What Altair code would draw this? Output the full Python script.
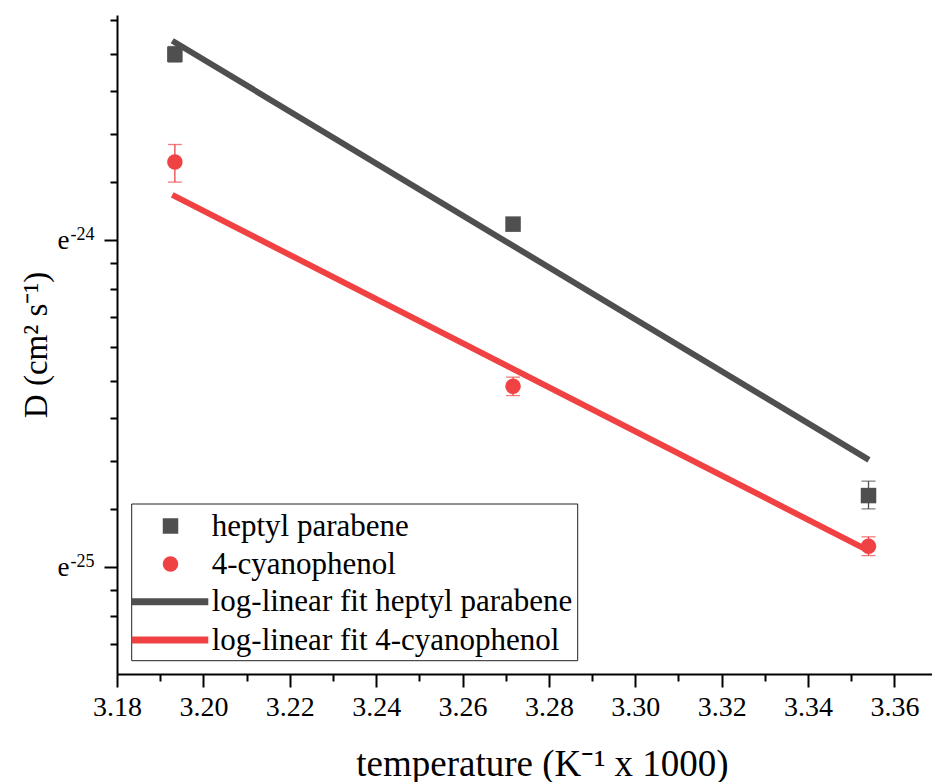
import math

import altair as alt
import pandas as pd

# Inverse temperature (K^-1 x 1000) of the three measurements
inv_temp = [3.1934, 3.2717, 3.3540]

# Diffusion coefficients D (cm^2 s^-1) with lower / upper error bounds
heptyl_D = [6.651e-11, 3.957e-11, 1.7256e-11]
heptyl_lo = [6.494e-11, 3.909e-11, 1.6568e-11]
heptyl_hi = [6.812e-11, 4.006e-11, 1.8034e-11]

cyano_D = [4.7835e-11, 2.4099e-11, 1.4782e-11]
cyano_lo = [4.4995e-11, 2.3426e-11, 1.4363e-11]
cyano_hi = [5.0477e-11, 2.4784e-11, 1.5209e-11]

# Log-linear fit lines, evaluated at the two ends of the range
fit_x = [3.1928, 3.3541]
heptyl_fit = [6.932e-11, 1.9246e-11]
cyano_fit = [4.328e-11, 1.4571e-11]

legend_labels = [
    "heptyl parabene",
    "4-cyanophenol",
    "log-linear fit heptyl parabene",
    "log-linear fit 4-cyanophenol",
]

# Axis ticks: x every 0.01 (labelled every 0.02); y in powers of e
x_ticks = [round(3.18 + 0.01 * i, 2) for i in range(19)]
y_major_exp = [-25, -24]
y_decades = [-26, -25, -24, -23]

FONT = "Liberation Serif"
GRAY = "#4f4f4f"
RED = "#f04243"
W, H = 815, 659
Y_DOMAIN = [1.0e-11, 7.5e-11]

y_ticks = [
    math.exp(n) * (1 + k * (math.e - 1) / 9) for n in y_decades for k in range(9)
]
y_ticks = [v for v in y_ticks if Y_DOMAIN[0] <= v <= Y_DOMAIN[1]]

x_scale = alt.Scale(domain=[3.18, 3.3687], nice=False, zero=False)
y_scale = alt.Scale(type="log", base=math.e, domain=Y_DOMAIN, nice=False)

x_major = "round(datum.value * 100) % 2 == 0"
y_major = "abs(log(datum.value) - round(log(datum.value))) < 1e-6"

x_axis = alt.Axis(
    values=x_ticks,
    title="temperature (K⁻¹ x 1000)",
    labelExpr=f"{x_major} ? format(datum.value, '.2f') : ''",
    tickSize={"condition": {"test": x_major, "value": 13}, "value": 7},
    grid=False,
    domainColor="black",
    domainWidth=2,
    tickColor="black",
    tickWidth=2,
    labelColor="black",
    labelFont=FONT,
    labelFontSize=28,
    labelPadding=6,
    labelOverlap=False,
    labelFlush=False,
    titleColor="black",
    titleFont=FONT,
    titleFontSize=37,
    titleFontWeight="normal",
    titlePadding=25,
    titleX=425,
)

y_axis = alt.Axis(
    values=y_ticks,
    labels=False,
    title="D (cm² s⁻¹)",
    tickSize={"condition": {"test": y_major, "value": 13}, "value": 7},
    grid=False,
    domainColor="black",
    domainWidth=2,
    tickColor="black",
    tickWidth=2,
    titleColor="black",
    titleFont=FONT,
    titleFontSize=33,
    titleFontWeight="normal",
    titlePadding=50,
)


def xe(field="x"):
    return alt.X(f"{field}:Q", scale=x_scale, axis=x_axis)


def ye(field="D"):
    return alt.Y(f"{field}:Q", scale=y_scale, axis=y_axis)


def series_layers(D, lo, hi, fit, color, shape):
    pts = pd.DataFrame({"x": inv_temp, "D": D, "lo": lo, "hi": hi})
    fit_df = pd.DataFrame({"x": fit_x, "D": fit})
    bar = alt.Chart(pts).mark_rule(color=color, strokeWidth=1.3).encode(
        x=xe(), y=ye("lo"), y2="hi"
    )
    cap_lo = alt.Chart(pts).mark_tick(
        color=color, orient="horizontal", size=14, thickness=1.3
    ).encode(x=xe(), y=ye("lo"))
    cap_hi = alt.Chart(pts).mark_tick(
        color=color, orient="horizontal", size=14, thickness=1.3
    ).encode(x=xe(), y=ye("hi"))
    dots = alt.Chart(pts).mark_point(
        shape=shape, filled=True, size=240, color=color, opacity=1
    ).encode(x=xe(), y=ye("D"))
    line = alt.Chart(fit_df).mark_line(
        color=color, strokeWidth=6, strokeCap="butt"
    ).encode(x=xe(), y=ye("D"))
    return [bar, cap_lo, cap_hi, dots, line]


layers = []
layers += series_layers(heptyl_D, heptyl_lo, heptyl_hi, heptyl_fit, GRAY, "square")
layers += series_layers(cyano_D, cyano_lo, cyano_hi, cyano_fit, RED, "circle")

# y tick labels written as e with a raised exponent
ylab = pd.DataFrame(
    {"x": [3.18] * len(y_major_exp),
     "D": [math.exp(n) for n in y_major_exp],
     "sup": [str(n) for n in y_major_exp]}
)
layers.append(
    alt.Chart(ylab).mark_text(
        text="e", align="right", baseline="alphabetic", dy=9.5,
        font=FONT, fontSize=27, color="black"
    ).encode(x=alt.value(-47.5), y=ye("D"))
)
layers.append(
    alt.Chart(ylab).mark_text(
        align="left", baseline="alphabetic", dy=0.5,
        font=FONT, fontSize=18, color="black"
    ).encode(x=alt.value(-46.5), y=ye("D"), text="sup:N")
)

# legend box with its four entries
one = pd.DataFrame({"k": [0]})
layers.append(
    alt.Chart(one).mark_rect(fill="white", stroke="#222222", strokeWidth=1).encode(
        x=alt.value(14.7), x2=alt.value(460.7), y=alt.value(489), y2=alt.value(645.7)
    )
)
row_y = [511, 549, 586.7, 625]
layers.append(
    alt.Chart(one).mark_point(shape="square", filled=True, size=240, color=GRAY, opacity=1)
    .encode(x=alt.value(53.5), y=alt.value(row_y[0]))
)
layers.append(
    alt.Chart(one).mark_point(shape="circle", filled=True, size=240, color=RED, opacity=1)
    .encode(x=alt.value(53.5), y=alt.value(row_y[1]))
)
for ry, col in zip(row_y[2:], [GRAY, RED]):
    layers.append(
        alt.Chart(one).mark_rule(color=col, strokeWidth=7, strokeCap="butt").encode(
            x=alt.value(14.7), x2=alt.value(91.3), y=alt.value(ry)
        )
    )
for ry, lab in zip(row_y, legend_labels):
    layers.append(
        alt.Chart(one).mark_text(
            text=lab, align="left", baseline="alphabetic", dy=9.5,
            font=FONT, fontSize=31, color="black"
        ).encode(x=alt.value(94.7), y=alt.value(ry))
    )

chart = (
    alt.layer(*layers)
    .properties(
        width=W,
        height=H,
        autosize=alt.AutoSizeParams(type="none"),
        padding={"left": 117, "top": 15, "right": 0, "bottom": 108},
        background="white",
    )
    .configure_view(strokeWidth=0)
)

chart.save("out.html", embed_options={"renderer": "svg", "actions": False})
